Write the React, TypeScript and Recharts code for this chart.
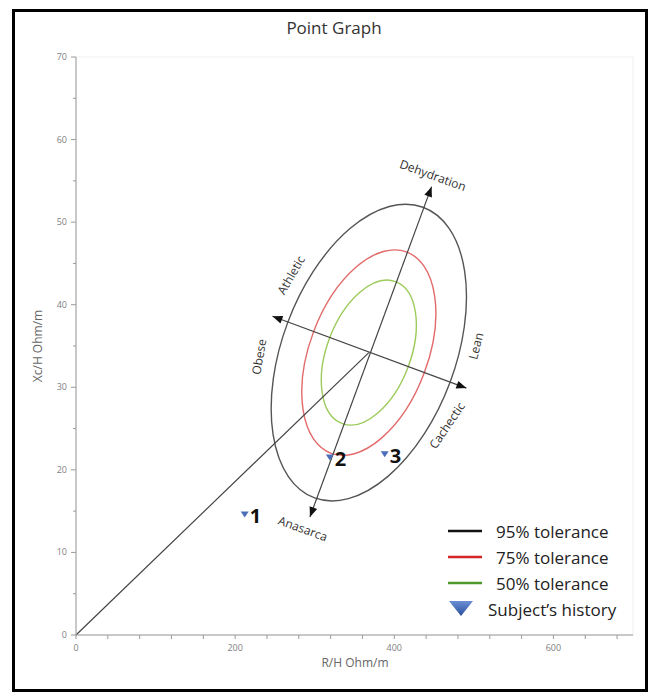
import React from "react";
import { Legend, Scatter, ScatterChart, XAxis, YAxis, usePlotArea } from "recharts";

const FONT = "'Open Sans', 'Noto Sans', sans-serif";

// axes
const X_DOMAIN = [0, 700];
const Y_DOMAIN = [0, 70];
const xTicks = [0, 40, 80, 120, 160, 200, 240, 280, 320, 360, 400, 440, 480, 520, 560, 600, 640, 680];
const xTickLabels = [0, 200, 400, 600];
const yTicks = [0, 5, 10, 15, 20, 25, 30, 35, 40, 45, 50, 55, 60, 65, 70];
const yTickLabels = [0, 10, 20, 30, 40, 50, 60, 70];

// subject's history (R/H, Xc/H)
const subjectHistory = [
    { id: "1", r: 212, xc: 14.6 },
    { id: "2", r: 319, xc: 21.5 },
    { id: "3", r: 388, xc: 21.9 },
];

// tolerance ellipses: shared centre, end of the major and minor semi axes
const ellipseCenter = { r: 368, xc: 34.2 };
const toleranceLevels = [
    { name: "95% tolerance", major: { r: 436.1, xc: 51.8 }, minor: { r: 470.1, xc: 30.6 } },
    { name: "75% tolerance", major: { r: 415.2, xc: 46.4 }, minor: { r: 437.7, xc: 31.75 } },
    { name: "50% tolerance", major: { r: 401.5, xc: 42.8 }, minor: { r: 417.4, xc: 32.47 } },
];
const toleranceColors = ["#555555", "#e26a6a", "#9ccb5a"];
const legendColors = ["#111111", "#d42626", "#4f9a2c"];

// body composition axes
const hydrationAxis = { from: { r: 294, xc: 14.3 }, to: { r: 446.9, xc: 54.3 } };
const tissueAxis = { from: { r: 246.9, xc: 38.6 }, to: { r: 490.6, xc: 29.9 } };
const originLine = { from: { r: 0, xc: 0 }, to: ellipseCenter };

const axisNotes = [
    { text: "Dehydration", r: 448.5, xc: 55.7 },
    { text: "Anasarca", r: 285.2, xc: 12.9 },
    { text: "Athletic", r: 270.1, xc: 43.6 },
    { text: "Obese", r: 229.9, xc: 33.7 },
    { text: "Lean", r: 502.5, xc: 35.0 },
    { text: "Cachectic", r: 466.1, xc: 25.4 },
];
const noteAngles = [20, 20, -60, -80, -76, -56];

type Pt = { r: number; xc: number };

const XTick = (props: any) => {
    const { x, y, payload } = props;
    const show = xTickLabels.includes(payload.value);
    return (
        <g>
            <line x1={x} y1={y} x2={x} y2={y + 4} stroke="#9a9a9a" />
            {show && (
                <text x={x} y={y + 16} textAnchor="middle" fontSize={9} fill="#808080" fontFamily={FONT}>
                    {payload.value}
                </text>
            )}
        </g>
    );
};

const YTick = (props: any) => {
    const { x, y, payload } = props;
    const show = yTickLabels.includes(payload.value);
    return (
        <g>
            <line x1={x} y1={y} x2={x - (show ? 5 : 3)} y2={y} stroke="#9a9a9a" />
            {show && (
                <text x={x - 9} y={y + 3} textAnchor="end" fontSize={9} fill="#808080" fontFamily={FONT}>
                    {payload.value}
                </text>
            )}
        </g>
    );
};

const Arrowhead = ({ tip, base }: { tip: number[]; base: number[] }) => {
    const dx = tip[0] - base[0];
    const dy = tip[1] - base[1];
    const len = Math.hypot(dx, dy);
    const ux = dx / len;
    const uy = dy / len;
    const bx = tip[0] - ux * 10;
    const by = tip[1] - uy * 10;
    const pts = [
        [tip[0], tip[1]],
        [bx - uy * 4, by + ux * 4],
        [bx + uy * 4, by - ux * 4],
    ];
    return <polygon points={pts.map((p) => p.join(",")).join(" ")} fill="#111" />;
};

const Overlay = () => {
    const area = usePlotArea();
    if (!area) return null;
    const px = (p: Pt) => [
        area.x + ((p.r - X_DOMAIN[0]) / (X_DOMAIN[1] - X_DOMAIN[0])) * area.width,
        area.y + area.height - ((p.xc - Y_DOMAIN[0]) / (Y_DOMAIN[1] - Y_DOMAIN[0])) * area.height,
    ];
    const c = px(ellipseCenter);
    const seg = (s: { from: Pt; to: Pt }) => [px(s.from), px(s.to)];
    const [h0, h1] = seg(hydrationAxis);
    const [t0, t1] = seg(tissueAxis);
    const [o0, o1] = seg(originLine);
    return (
        <g>
            <rect x={area.x} y={area.y} width={area.width} height={area.height} fill="none" stroke="#efefef" />
            {toleranceLevels.map((lvl, i) => {
                const a = px(lvl.major);
                const b = px(lvl.minor);
                return (
                    <ellipse
                        key={lvl.name}
                        cx={0}
                        cy={0}
                        rx={1}
                        ry={1}
                        fill="none"
                        stroke={toleranceColors[i]}
                        strokeWidth={1.4}
                        vectorEffect="non-scaling-stroke"
                        transform={`matrix(${a[0] - c[0]} ${a[1] - c[1]} ${b[0] - c[0]} ${b[1] - c[1]} ${c[0]} ${c[1]})`}
                    />
                );
            })}
            <line x1={o0[0]} y1={o0[1]} x2={o1[0]} y2={o1[1]} stroke="#444" strokeWidth={1.2} />
            <line x1={h0[0]} y1={h0[1]} x2={h1[0]} y2={h1[1]} stroke="#444" strokeWidth={1.2} />
            <line x1={t0[0]} y1={t0[1]} x2={t1[0]} y2={t1[1]} stroke="#444" strokeWidth={1.2} />
            <Arrowhead tip={h1} base={h0} />
            <Arrowhead tip={h0} base={h1} />
            <Arrowhead tip={t1} base={t0} />
            <Arrowhead tip={t0} base={t1} />
            {axisNotes.map((n, i) => {
                const p = px(n);
                return (
                    <text
                        key={n.text}
                        x={p[0]}
                        y={p[1]}
                        textAnchor="middle"
                        dominantBaseline="central"
                        fontSize={12}
                        fill="#333"
                        fontFamily={FONT}
                        transform={`rotate(${noteAngles[i]} ${p[0]} ${p[1]})`}
                    >
                        {n.text}
                    </text>
                );
            })}
        </g>
    );
};

const SubjectPoint = (props: any) => {
    const { cx, cy, payload } = props;
    return (
        <g>
            <polygon points={`${cx - 4},${cy - 3} ${cx + 4},${cy - 3} ${cx},${cy + 3}`} fill="#4a6fb8" />
            <text x={cx + 5} y={cy + 1} dominantBaseline="central" fontSize={20} fontWeight={700} fill="#111" fontFamily={FONT}>
                {payload.id}
            </text>
        </g>
    );
};

const LegendBox = () => (
    <div style={{ fontFamily: FONT, fontSize: 17, color: "#222" }}>
        {toleranceLevels.map((lvl, i) => (
            <div key={lvl.name} style={{ display: "flex", alignItems: "center", height: 26 }}>
                <svg width={48} height={26}>
                    <line x1={0} y1={13} x2={34} y2={13} stroke={legendColors[i]} strokeWidth={2.5} />
                </svg>
                <span>{lvl.name}</span>
            </div>
        ))}
        <div style={{ display: "flex", alignItems: "center", height: 26 }}>
            <svg width={40} height={26}>
                <defs>
                    <linearGradient id="triFill" x1="0" y1="0" x2="0" y2="1">
                        <stop offset="0" stopColor="#6a8fd6" />
                        <stop offset="1" stopColor="#2b4f9c" />
                    </linearGradient>
                </defs>
                <polygon points="1,5 25,5 13,20" fill="url(#triFill)" />
            </svg>
            <span>Subject’s history</span>
        </div>
    </div>
);

export default function App() {
    return (
        <div style={{ position: "absolute", left: 0, top: 0, width: 659, height: 696, background: "#fff" }}>
            <div
                style={{
                    position: "absolute",
                    left: 234,
                    top: 17,
                    width: 200,
                    textAlign: "center",
                    fontFamily: FONT,
                    fontSize: 17,
                    lineHeight: "22px",
                    color: "#333",
                }}
            >
                Point Graph
            </div>
            <ScatterChart width={659} height={696} margin={{ top: 57, right: 26, bottom: 31, left: 36 }}>
                <XAxis
                    type="number"
                    dataKey="r"
                    domain={X_DOMAIN}
                    ticks={xTicks}
                    interval={0}
                    tick={<XTick />}
                    tickLine={false}
                    tickSize={0}
                    tickMargin={0}
                    height={30}
                    stroke="#9a9a9a"
                    allowDataOverflow
                />
                <YAxis
                    type="number"
                    dataKey="xc"
                    domain={Y_DOMAIN}
                    ticks={yTicks}
                    interval={0}
                    tick={<YTick />}
                    tickLine={false}
                    tickSize={0}
                    tickMargin={0}
                    width={40}
                    stroke="#9a9a9a"
                    allowDataOverflow
                />
                <Overlay />
                <Scatter data={subjectHistory} shape={<SubjectPoint />} isAnimationActive={false} />
                <Legend
                    layout="vertical"
                    align="center"
                    verticalAlign="middle"
                    content={() => <LegendBox />}
                    wrapperStyle={{ left: 448, top: 518, width: 200 }}
                />
            </ScatterChart>
            <div
                style={{
                    position: "absolute",
                    left: 255,
                    top: 655,
                    width: 200,
                    textAlign: "center",
                    fontFamily: FONT,
                    fontSize: 12,
                    lineHeight: "16px",
                    color: "#666",
                }}
            >
                R/H Ohm/m
            </div>
            <div
                style={{
                    position: "absolute",
                    left: -62,
                    top: 338,
                    width: 200,
                    textAlign: "center",
                    fontFamily: FONT,
                    fontSize: 12,
                    lineHeight: "16px",
                    color: "#666",
                    transform: "rotate(-90deg)",
                }}
            >
                Xc/H Ohm/m
            </div>
            <div
                style={{
                    position: "absolute",
                    left: 12,
                    top: 9,
                    width: 636,
                    height: 683,
                    border: "3px solid #000",
                    boxSizing: "border-box",
                    pointerEvents: "none",
                }}
            />
        </div>
    );
}
